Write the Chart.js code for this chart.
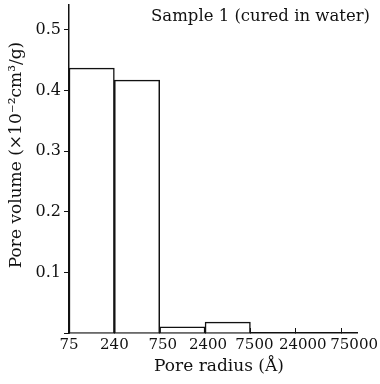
<!DOCTYPE html>
<html>
<head>
<meta charset="utf-8">
<script src="https://cdn.jsdelivr.net/npm/chart.js@4/dist/chart.umd.min.js"></script>
<style>
  html, body { margin: 0; padding: 0; background: #fff; }
  #wrap { width: 380px; height: 384px; }
</style>
</head>
<body>
<div id="wrap"><canvas id="c"></canvas></div>
<script>
// bin edges (pore radius, Å) and pore volume per bin
const edgeLabels = ['75', '240', '750', '2400', '7500', '24000', '75000'];
const binCenters = [0.5, 1.5, 2.5, 3.5, 4.5, 5.5];
const poreVolume = [0.437, 0.417, 0.010, 0.018, 0, 0];
const yTicks = [0, 0.1, 0.2, 0.3, 0.4, 0.5];

const serif = '"DejaVu Serif", "Liberation Serif", serif';
const ink = '#111';

// the printed edge labels crowd to the right at the long end of the axis
const labelNudge = [0, 0, 3, 3, 4, 7, 13];

// panel title, edge labels and axis titles placed like the scanned figure
const figureText = {
  id: 'figureText',
  afterDraw(chart) {
    const ctx = chart.ctx;
    const area = chart.chartArea;
    const xs = chart.scales.x;
    ctx.save();
    ctx.fillStyle = ink;
    ctx.textBaseline = 'middle';
    ctx.font = '16.5px ' + serif;
    ctx.textAlign = 'right';
    ctx.fillText('Sample 1 (cured in water)', 370, 17);

    ctx.textAlign = 'center';
    ctx.font = '15px ' + serif;
    edgeLabels.forEach((lab, i) => {
      ctx.fillText(lab, xs.getPixelForValue(i) + labelNudge[i], area.bottom + 12);
    });

    ctx.font = '17px ' + serif;
    ctx.fillText('Pore radius (Å)', (area.left + area.right) / 2 + 6, 367);

    ctx.translate(17, 155);
    ctx.rotate(-Math.PI / 2);
    ctx.fillText('Pore volume (×10⁻²cm³/g)', 0, 0);
    ctx.restore();
  }
};

const points = binCenters.map((x, i) => ({x: x, y: poreVolume[i]}));

new Chart(document.getElementById('c'), {
  type: 'bar',
  data: {
    datasets: [{
      data: points,
      backgroundColor: '#fff',
      borderColor: ink,
      borderWidth: 1.5,
      barPercentage: 1,
      categoryPercentage: 1
    }]
  },
  options: {
    responsive: true,
    maintainAspectRatio: false,
    animation: false,
    layout: { padding: { top: 5, right: 23, left: 0, bottom: 0 } },
    plugins: { legend: { display: false }, tooltip: { enabled: false } },
    scales: {
      x: {
        type: 'linear',
        offset: false,
        min: 0,
        max: 6.35,
        afterFit: s => { s.height = 51; s.paddingLeft = 0; s.paddingRight = 0; },
        afterBuildTicks: s => { s.ticks = edgeLabels.map((_, i) => ({value: i})); },
        border: { color: ink, width: 1.5 },
        grid: { drawOnChartArea: false, color: ink, tickLength: -5, offset: false },
        ticks: { display: false }
      },
      y: {
        min: 0,
        max: 0.541,
        afterFit: s => { s.width = 69; s.paddingTop = 0; s.paddingBottom = 0; },
        afterBuildTicks: s => { s.ticks = yTicks.map(v => ({value: v})); },
        border: { color: ink, width: 1.5 },
        grid: { drawOnChartArea: false, color: ink, tickLength: 5 },
        ticks: {
          color: ink,
          font: { family: serif, size: 16 },
          padding: 3,
          callback: v => v === 0 ? '' : v.toFixed(1)
        }
      }
    }
  },
  plugins: [figureText]
});
</script>
</body>
</html>
